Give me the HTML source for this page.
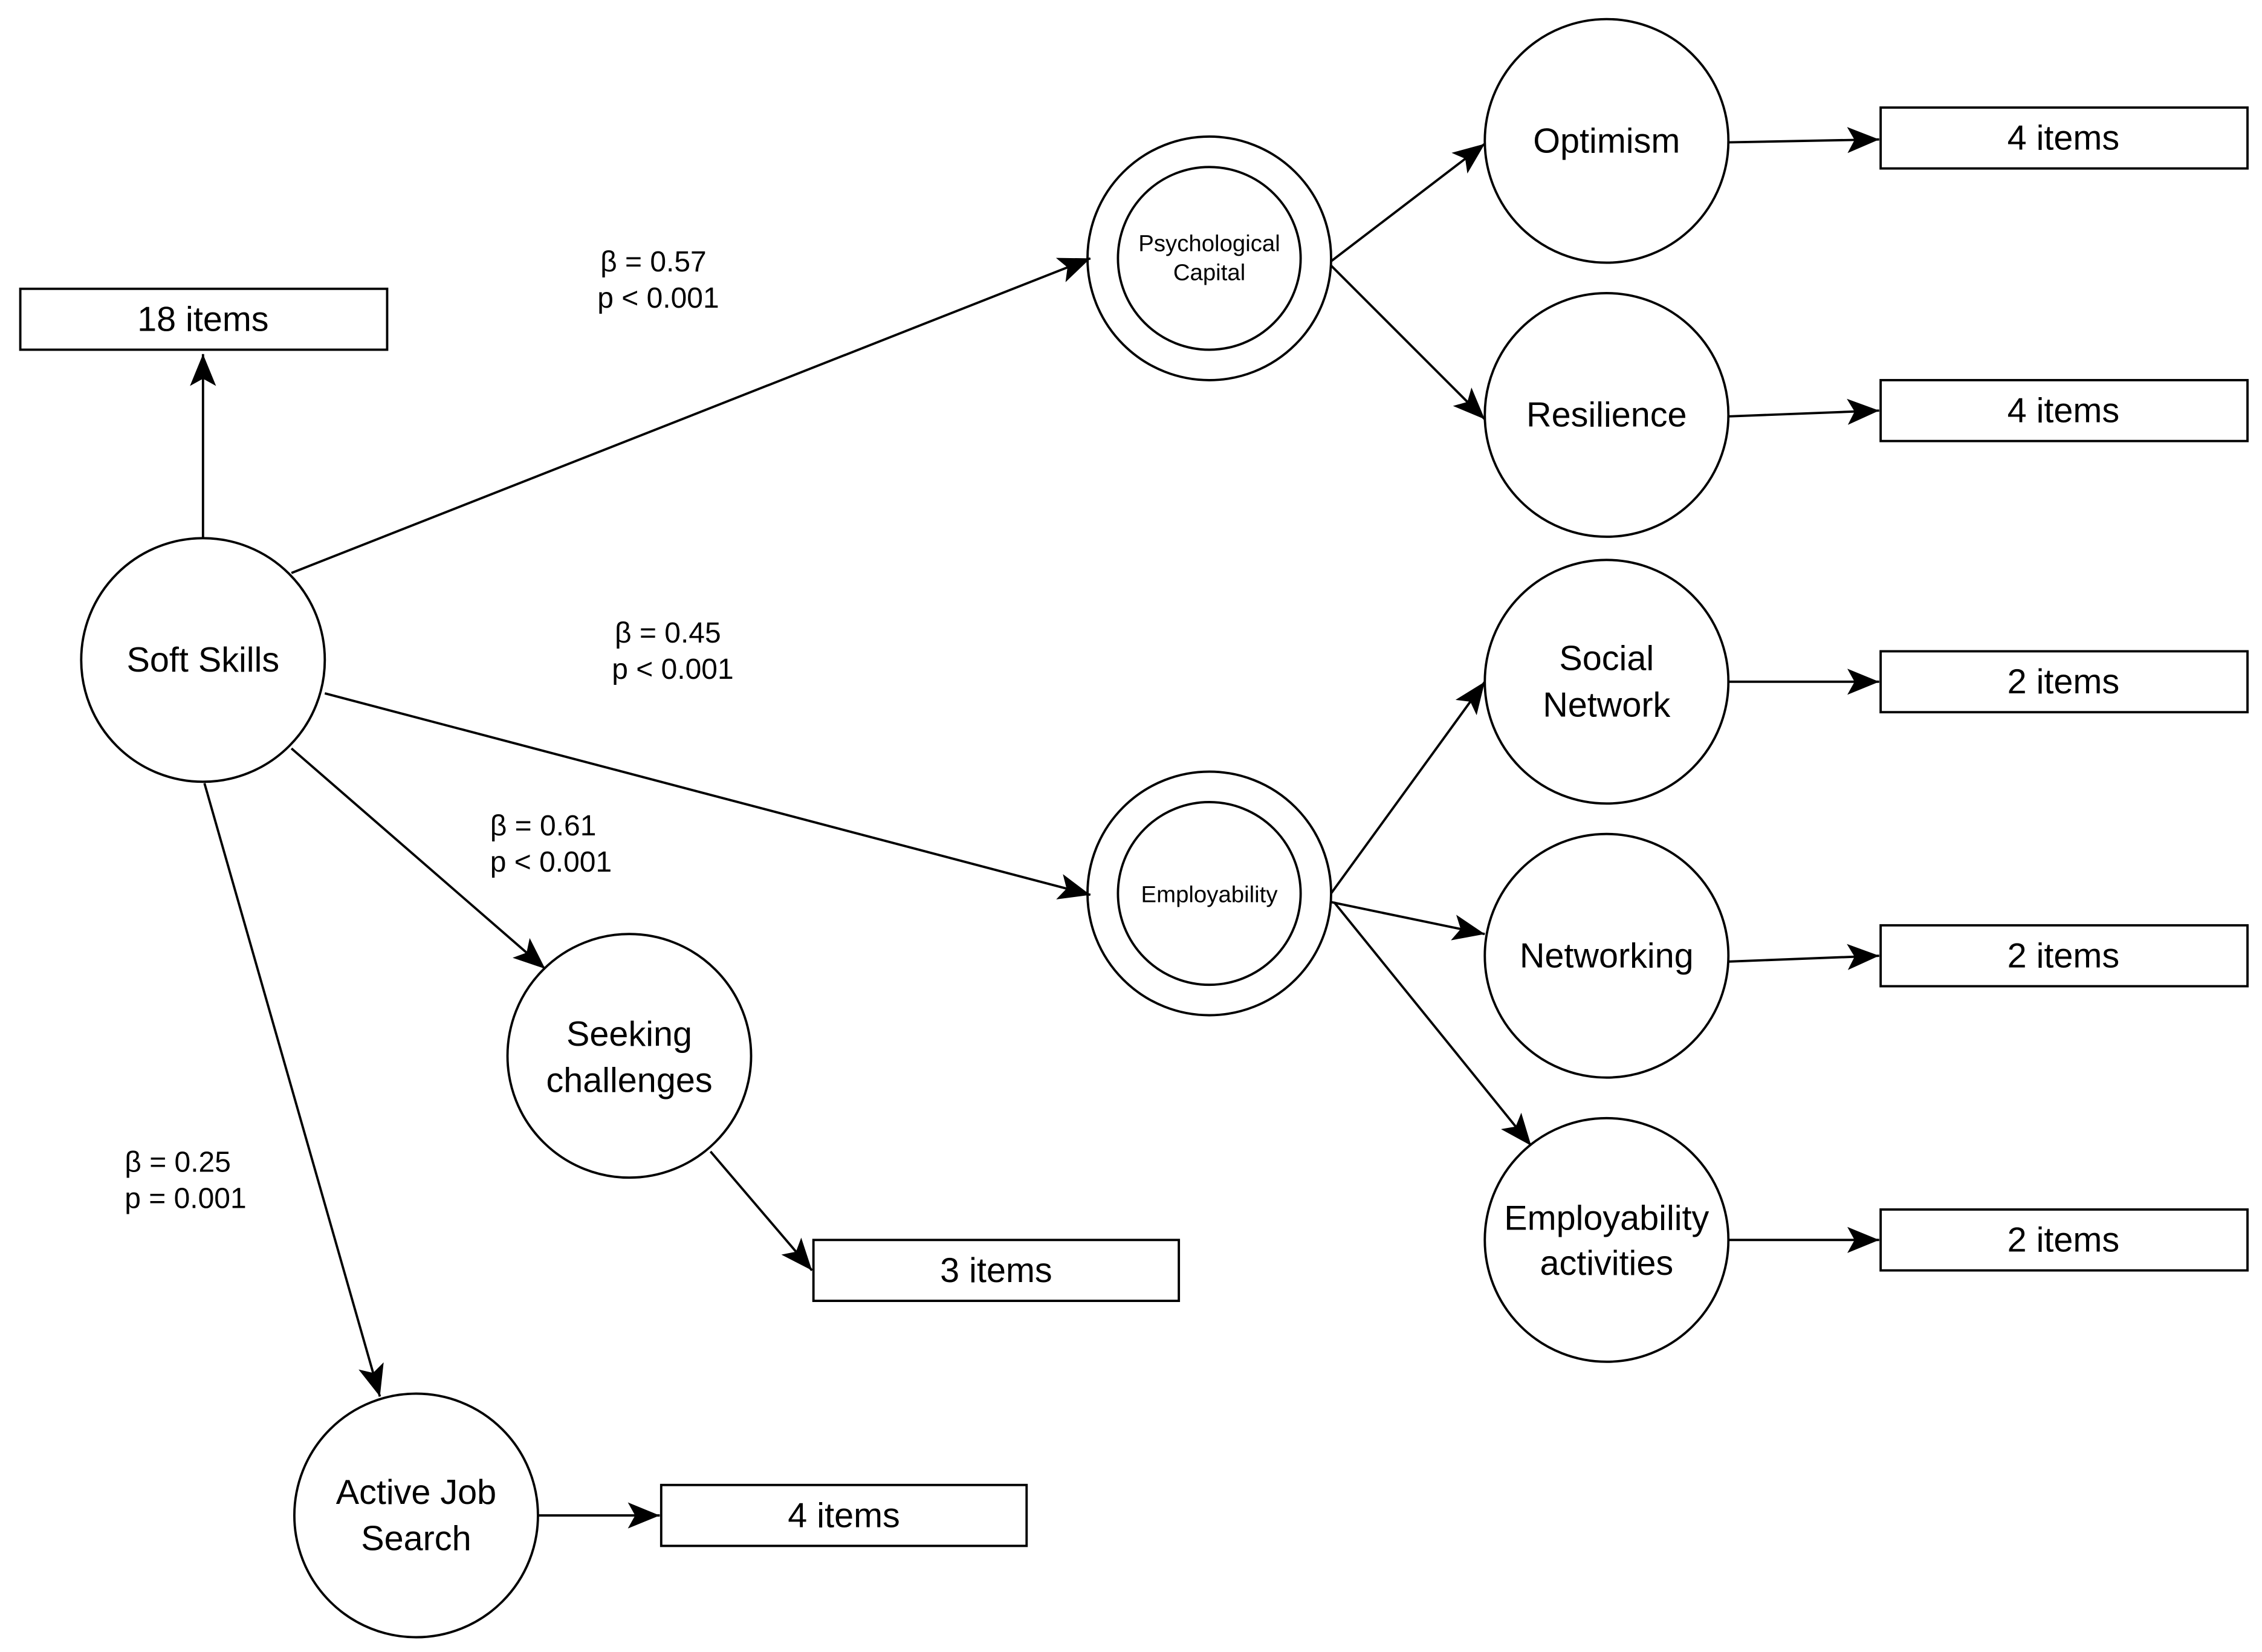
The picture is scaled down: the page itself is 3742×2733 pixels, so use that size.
<!DOCTYPE html>
<html><head><meta charset="utf-8"><style>html,body{margin:0;padding:0;background:#fff}svg{display:block}</style></head>
<body>
<svg width="3742" height="2733" viewBox="0 0 1560 1139" xmlns="http://www.w3.org/2000/svg" font-family="Liberation Sans, Arial, sans-serif">
<defs>
<marker id="a" markerUnits="userSpaceOnUse" markerWidth="24" markerHeight="18" refX="22" refY="9" orient="auto">
<path d="M0,0 L22,9 L0,18 L5,9 Z" fill="#000"/>
</marker>
</defs>
<rect width="1560" height="1139" fill="#fff"/>
<g fill="none" stroke="#000" stroke-width="1.6">
<circle cx="140" cy="455" r="84"/>
<circle cx="834" cy="178" r="84"/><circle cx="834" cy="178" r="63"/>
<circle cx="834" cy="616" r="84"/><circle cx="834" cy="616" r="63"/>
<circle cx="1108" cy="97" r="84"/>
<circle cx="1108" cy="286" r="84"/>
<circle cx="1108" cy="470" r="84"/>
<circle cx="1108" cy="659" r="84"/>
<circle cx="1108" cy="855" r="84"/>
<circle cx="434" cy="728" r="84"/>
<circle cx="287" cy="1045" r="84"/>
<rect x="14" y="199" width="253" height="42"/>
<rect x="1297" y="74" width="253" height="42"/>
<rect x="1297" y="262" width="253" height="42"/>
<rect x="1297" y="449" width="253" height="42"/>
<rect x="1297" y="638" width="253" height="42"/>
<rect x="1297" y="834" width="253" height="42"/>
<rect x="561" y="855" width="252" height="42"/>
<rect x="456" y="1024" width="252" height="42"/>
</g>
<g stroke="#000" stroke-width="1.6" marker-end="url(#a)">
<line x1="140" y1="371" x2="140" y2="244"/>
<line x1="201" y1="395" x2="752" y2="178"/>
<line x1="224" y1="478" x2="752" y2="617"/>
<line x1="201" y1="516" x2="376" y2="668"/>
<line x1="141" y1="540" x2="262" y2="963"/>
<line x1="918" y1="180" x2="1024" y2="99"/>
<line x1="918" y1="183" x2="1024" y2="289"/>
<line x1="918" y1="616" x2="1024" y2="470"/>
<line x1="918" y1="622" x2="1024" y2="644"/>
<line x1="920" y1="622" x2="1056" y2="790"/>
<line x1="1192" y1="98" x2="1296" y2="96"/>
<line x1="1192" y1="287" x2="1296" y2="283"/>
<line x1="1192" y1="470" x2="1296" y2="470"/>
<line x1="1192" y1="663" x2="1296" y2="659"/>
<line x1="1192" y1="855" x2="1296" y2="855"/>
<line x1="490" y1="794" x2="560" y2="876"/>
<line x1="371" y1="1045" x2="455" y2="1045"/>
</g>
<g font-size="24" text-anchor="middle" fill="#000">
<text x="140" y="463">Soft Skills</text>
<text x="140" y="228">18 items</text>
<text x="1108" y="105">Optimism</text>
<text x="1108" y="294">Resilience</text>
<text x="1108" y="462">Social</text><text x="1108" y="494">Network</text>
<text x="1108" y="667">Networking</text>
<text x="1108" y="848">Employability</text><text x="1108" y="879">activities</text>
<text x="434" y="721">Seeking</text><text x="434" y="753">challenges</text>
<text x="287" y="1037">Active Job</text><text x="287" y="1069">Search</text>
<text x="1423" y="103">4 items</text>
<text x="1423" y="291">4 items</text>
<text x="1423" y="478">2 items</text>
<text x="1423" y="667">2 items</text>
<text x="1423" y="863">2 items</text>
<text x="687" y="884">3 items</text>
<text x="582" y="1053">4 items</text>
</g>
<g font-size="16" text-anchor="middle">
<text x="834" y="173">Psychological</text><text x="834" y="193">Capital</text>
<text x="834" y="622">Employability</text>
</g>
<g font-size="20">
<text x="414" y="187">β = 0.57</text><text x="412" y="212">p &lt; 0.001</text>
<text x="424" y="443">β = 0.45</text><text x="422" y="468">p &lt; 0.001</text>
<text x="338" y="576">β = 0.61</text><text x="338" y="601">p &lt; 0.001</text>
<text x="86" y="808">β = 0.25</text><text x="86" y="833">p = 0.001</text>
</g>
</svg>
</body></html>
